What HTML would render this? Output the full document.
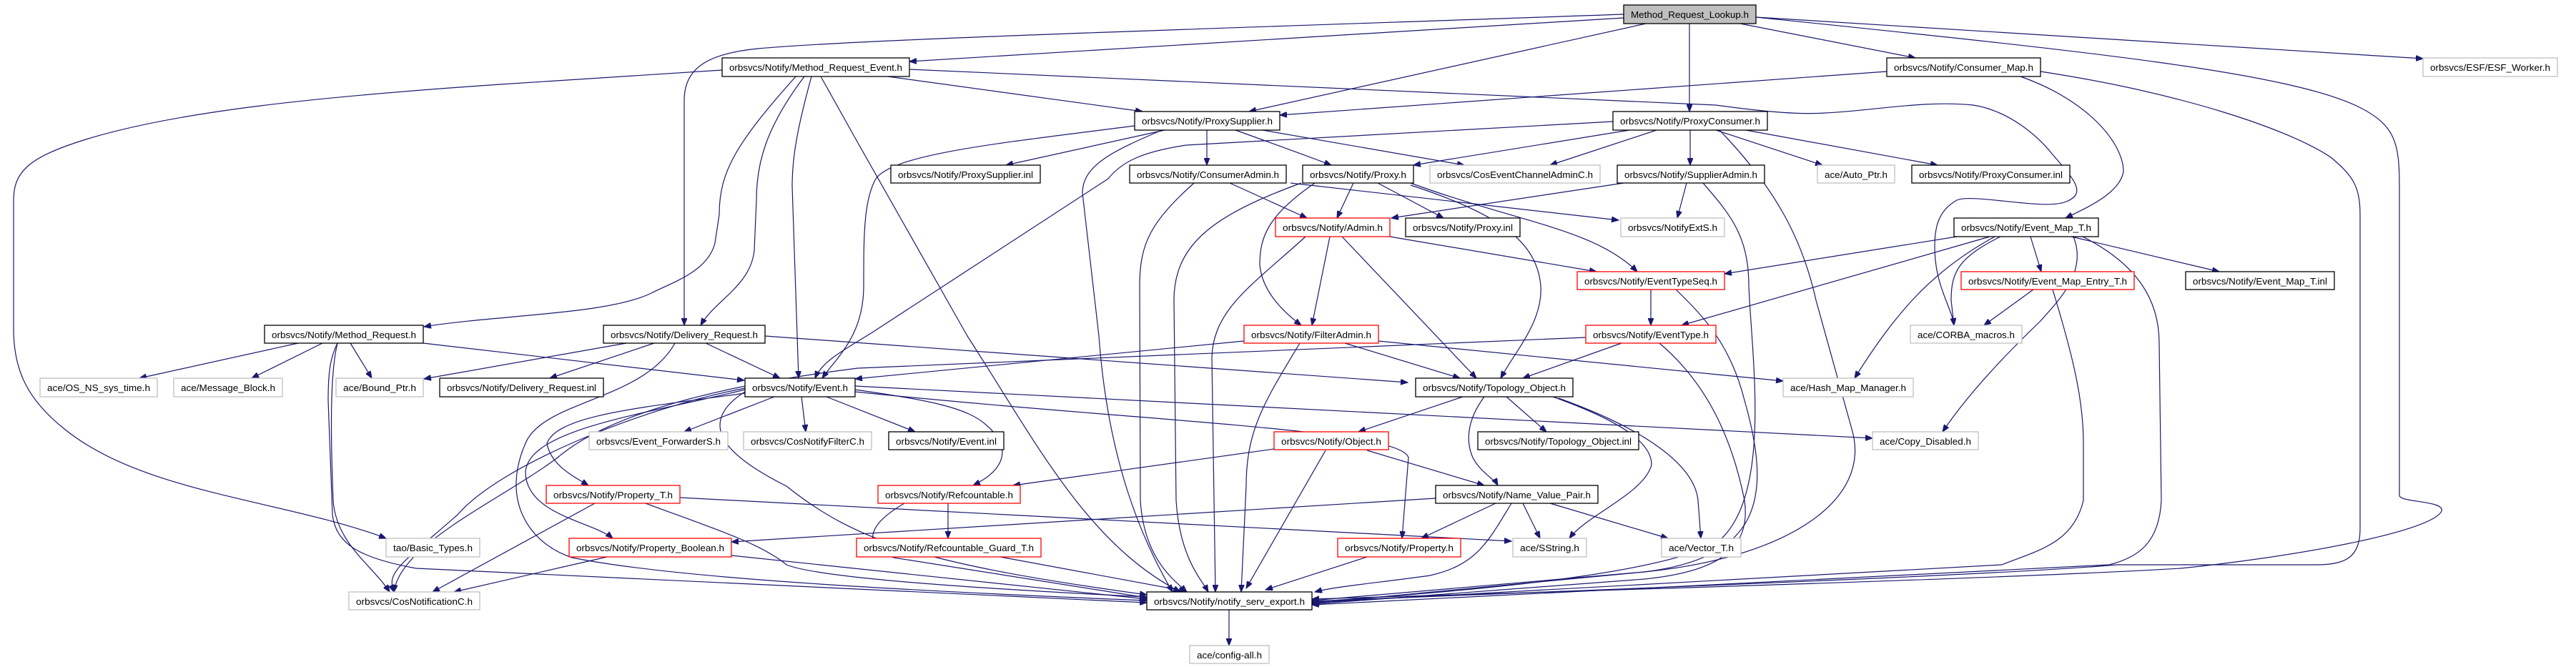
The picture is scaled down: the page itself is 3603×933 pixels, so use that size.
<!DOCTYPE html>
<html><head><meta charset="utf-8"><style>
html,body{margin:0;padding:0;background:#fff;}
svg{display:block;}
text{font-family:"Liberation Sans",sans-serif;font-size:13px;fill:#000;}
.e{fill:none;stroke:#191970;stroke-width:1.2;marker-end:url(#a);}
</style></head><body>
<svg width="3603" height="933" viewBox="0 0 3603 933" xmlns="http://www.w3.org/2000/svg">
<defs><marker id="a" markerUnits="userSpaceOnUse" markerWidth="11" markerHeight="8" refX="10" refY="4" orient="auto"><path d="M0,0 L10,4 L0,8 z" fill="#191970" stroke="#191970"/></marker></defs>
<g>
<path class="e" d="M2271,25 L1272,86"/>
<path class="e" d="M2271,20 C1700,40 1200,55 1060,68 C990,75 957,95 957,140 L957,455"/>
<path class="e" d="M2302,33 L1747,156"/>
<path class="e" d="M2363,33 L2363,156"/>
<path class="e" d="M2434,33 L2679,81"/>
<path class="e" d="M2456,24 L3389,82"/>
<path class="e" d="M2456,24 C2900,70 3200,100 3300,150 C3350,175 3356,200 3356,260 L3356,693 C3356,703 3420,700 3415,715 C3400,745 3200,780 3050,795 C2800,810 2100,830 1835,838"/>
<path class="e" d="M1010,98 L700,118 C450,135 250,155 120,195 C40,220 19,240 19,280 L19,460 C19,520 40,560 90,600 C200,690 400,700 540,753"/>
<path class="e" d="M1242,107 L1598,156"/>
<path class="e" d="M1113,107 C1030,200 1006,240 1006,300 L1000,340 C990,380 940,395 911,410 C850,440 700,440 593,457"/>
<path class="e" d="M1125,107 C1070,180 1058,230 1058,280 L1055,350 C1050,400 1000,420 980,455"/>
<path class="e" d="M1135,107 C1115,180 1108,220 1108,260 L1117,529"/>
<path class="e" d="M1148,107 L1200,200 L1353,470 C1450,620 1520,760 1651,828"/>
<path class="e" d="M1272,97 L2400,147 C2480,158 2520,160 2553,158 C2620,155 2690,140 2760,147 C2810,155 2850,190 2870,215 C2900,250 2920,270 2890,282 C2860,295 2760,270 2737,280 C2710,295 2706,320 2706,345 C2706,400 2730,430 2733,455"/>
<path class="e" d="M2639,100 L1790,161"/>
<path class="e" d="M2826,107 C2920,140 2970,200 2970,240 C2965,270 2920,290 2889,305"/>
<path class="e" d="M2854,100 C3050,130 3200,180 3260,220 C3290,245 3301,260 3301,300 L3301,740 C3301,780 3280,790 3240,790 L2960,790 C2800,805 2100,830 1835,841"/>
<path class="e" d="M2256,170 L1659,203 C1600,212 1570,225 1550,250 L1220,465 C1180,490 1150,505 1140,529"/>
<path class="e" d="M2317,182 L2168,231"/>
<path class="e" d="M2279,182 L1977,231"/>
<path class="e" d="M2364,182 L2364,231"/>
<path class="e" d="M2400,182 L2549,231"/>
<path class="e" d="M2442,182 L2710,231"/>
<path class="e" d="M2405,182 C2480,260 2520,330 2540,420 L2590,600 C2620,700 2500,780 2300,800 L1835,840"/>
<path class="e" d="M1629,182 L1407,231"/>
<path class="e" d="M1688,182 L1688,231"/>
<path class="e" d="M1728,182 Q1820,215 1862,231"/>
<path class="e" d="M1766,182 L2048,231"/>
<path class="e" d="M1587,176 C1400,200 1250,215 1225,250 C1208,280 1208,330 1208,400 C1208,470 1170,500 1150,529"/>
<path class="e" d="M1625,182 C1560,210 1514,230 1514,270 L1537,470 C1550,650 1600,760 1640,828"/>
<path class="e" d="M1720,256 L1828,305"/>
<path class="e" d="M1805,256 L2264,308"/>
<path class="e" d="M1670,256 C1610,310 1594,340 1594,400 L1595,700 C1600,780 1640,810 1660,828"/>
<path class="e" d="M1893,256 L1870,305"/>
<path class="e" d="M1927,256 L2019,305"/>
<path class="e" d="M1973,256 C2120,310 2230,320 2290,380"/>
<path class="e" d="M1973,259 C2100,300 2150,340 2155,400 C2158,450 2120,490 2099,529"/>
<path class="e" d="M1839,256 C1775,300 1762,330 1762,370 C1765,410 1800,440 1820,455"/>
<path class="e" d="M1820,256 C1700,300 1642,340 1642,420 L1645,700 C1650,780 1680,810 1690,828"/>
<path class="e" d="M2271,256 L1946,305"/>
<path class="e" d="M2359,256 L2346,305"/>
<path class="e" d="M2382,256 C2420,300 2446,330 2446,400 C2450,500 2480,700 2400,760 C2300,810 2000,830 1835,842"/>
<path class="e" d="M1860,331 L1835,455"/>
<path class="e" d="M1944,331 L2233,380"/>
<path class="e" d="M1877,331 L2065,529"/>
<path class="e" d="M1826,331 C1750,400 1697,433 1695,500 L1700,828"/>
<path class="e" d="M2309,405 L2309,455"/>
<path class="e" d="M2344,405 C2380,440 2420,480 2440,560 C2480,700 2460,780 2300,800 L1835,844"/>
<path class="e" d="M1740,477 L1196,530"/>
<path class="e" d="M1881,480 L2042,529"/>
<path class="e" d="M1818,480 C1770,560 1743,600 1743,680 L1736,828"/>
<path class="e" d="M1928,477 L2494,533"/>
<path class="e" d="M2268,480 L2130,529"/>
<path class="e" d="M2218,472 L1200,515 C1000,540 850,580 780,640 C700,700 560,760 551,828"/>
<path class="e" d="M2321,480 C2380,530 2420,600 2440,700 C2450,770 2400,800 2300,810 L1835,845"/>
<path class="e" d="M2046,555 L1900,604"/>
<path class="e" d="M2107,555 L2163,604"/>
<path class="e" d="M2076,555 C2050,590 2051,620 2060,640 C2070,660 2090,670 2095,679"/>
<path class="e" d="M2172,555 C2270,590 2310,620 2310,650 C2300,690 2220,720 2195,753"/>
<path class="e" d="M2180,557 C2300,600 2370,650 2375,700 L2379,753"/>
<path class="e" d="M1196,540 L2619,613"/>
<path class="e" d="M2900,331 C2920,380 2880,420 2853,450 C2780,520 2740,570 2717,604"/>
<path class="e" d="M1782,628 L1417,679"/>
<path class="e" d="M1912,630 L2076,679"/>
<path class="e" d="M1854,630 L1743,823"/>
<path class="e" d="M2092,704 L1988,753"/>
<path class="e" d="M2130,704 L2154,753"/>
<path class="e" d="M2168,704 L2333,753"/>
<path class="e" d="M2114,704 C2080,760 2065,790 2000,805 C1930,815 1870,820 1839,828"/>
<path class="e" d="M2008,697 L1023,758"/>
<path class="e" d="M1912,779 L1770,825"/>
<path class="e" d="M1326,704 L1326,753"/>
<path class="e" d="M1399,779 L1659,827"/>
<path class="e" d="M832,704 L605,828"/>
<path class="e" d="M951,696 L2114,757"/>
<path class="e" d="M903,704 C1000,740 1064,760 1100,790 C1150,810 1400,825 1604,835"/>
<path class="e" d="M849,779 L635,828"/>
<path class="e" d="M1023,777 L1604,838"/>
<path class="e" d="M417,480 L195,529"/>
<path class="e" d="M451,480 L352,529"/>
<path class="e" d="M490,480 L520,529"/>
<path class="e" d="M592,480 L1041,532"/>
<path class="e" d="M472,480 C462,500 459,520 459,560 L465,720 C470,760 500,780 582,795 L1604,843"/>
<path class="e" d="M472,480 C462,520 462,600 466,700 C470,760 520,790 545,828"/>
<path class="e" d="M876,480 L593,530"/>
<path class="e" d="M915,480 L769,529"/>
<path class="e" d="M987,480 L1091,529"/>
<path class="e" d="M1070,470 L1969,535"/>
<path class="e" d="M944,480 C900,560 760,560 735,620 C700,700 740,760 800,780 C900,800 1100,820 1604,840"/>
<path class="e" d="M1083,555 L957,604"/>
<path class="e" d="M1121,555 L1127,604"/>
<path class="e" d="M1156,555 L1280,604"/>
<path class="e" d="M1196,545 C1300,560 1353,570 1380,595 C1420,630 1400,660 1361,679"/>
<path class="e" d="M1042,550 C900,570 780,580 765,620 C770,650 800,665 823,679"/>
<path class="e" d="M1042,545 C900,580 740,600 735,660 C735,720 830,730 857,753"/>
<path class="e" d="M1196,548 C1600,590 1958,600 1970,640 L1961,753"/>
<path class="e" d="M1042,543 C900,570 700,650 640,720 C560,790 540,800 551,828"/>
<path class="e" d="M1042,548 C960,600 1040,650 1100,680 C1200,760 1300,790 1604,832"/>
<path class="e" d="M2737,331 L2412,383"/>
<path class="e" d="M2783,331 L2352,455"/>
<path class="e" d="M2840,331 L2855,380"/>
<path class="e" d="M2897,331 L3104,380"/>
<path class="e" d="M2798,331 C2740,360 2729,380 2729,420 L2733,455"/>
<path class="e" d="M2790,331 C2700,380 2650,440 2594,529"/>
<path class="e" d="M2913,331 C2990,370 3020,420 3020,480 L3023,700 C3020,760 2990,780 2950,790 L1835,846"/>
<path class="e" d="M2844,405 L2775,455"/>
<path class="e" d="M2871,405 C2900,500 2914,560 2914,620 L2914,700 C2900,760 2850,770 2800,790 L1835,843"/>
<path class="e" d="M1265,704 C1220,730 1200,760 1250,780 L1604,836"/>
<path class="e" d="M1719,853 L1719,903"/>
</g>
<g stroke-width="1.3">
<rect x="2271" y="7" width="185" height="26" fill="#bfbfbf" stroke="#000"/><text x="2281" y="25" textLength="165" lengthAdjust="spacingAndGlyphs">Method_Request_Lookup.h</text>
<rect x="1010" y="81" width="262" height="26" fill="#fff" stroke="#000"/><text x="1020" y="99" textLength="242" lengthAdjust="spacingAndGlyphs">orbsvcs/Notify/Method_Request_Event.h</text>
<rect x="2639" y="81" width="215" height="26" fill="#fff" stroke="#000"/><text x="2649" y="99" textLength="195" lengthAdjust="spacingAndGlyphs">orbsvcs/Notify/Consumer_Map.h</text>
<rect x="3389" y="81" width="188" height="26" fill="#fff" stroke="#bfbfbf"/><text x="3399" y="99" textLength="168" lengthAdjust="spacingAndGlyphs">orbsvcs/ESF/ESF_Worker.h</text>
<rect x="1587" y="156" width="203" height="26" fill="#fff" stroke="#000"/><text x="1597" y="174" textLength="183" lengthAdjust="spacingAndGlyphs">orbsvcs/Notify/ProxySupplier.h</text>
<rect x="2256" y="156" width="216" height="26" fill="#fff" stroke="#000"/><text x="2266" y="174" textLength="196" lengthAdjust="spacingAndGlyphs">orbsvcs/Notify/ProxyConsumer.h</text>
<rect x="1246" y="231" width="209" height="25" fill="#fff" stroke="#000"/><text x="1256" y="249" textLength="189" lengthAdjust="spacingAndGlyphs">orbsvcs/Notify/ProxySupplier.inl</text>
<rect x="1580" y="231" width="219" height="25" fill="#fff" stroke="#000"/><text x="1590" y="249" textLength="199" lengthAdjust="spacingAndGlyphs">orbsvcs/Notify/ConsumerAdmin.h</text>
<rect x="1822" y="231" width="155" height="25" fill="#fff" stroke="#000"/><text x="1832" y="249" textLength="135" lengthAdjust="spacingAndGlyphs">orbsvcs/Notify/Proxy.h</text>
<rect x="2000" y="231" width="238" height="25" fill="#fff" stroke="#bfbfbf"/><text x="2010" y="249" textLength="218" lengthAdjust="spacingAndGlyphs">orbsvcs/CosEventChannelAdminC.h</text>
<rect x="2262" y="231" width="206" height="25" fill="#fff" stroke="#000"/><text x="2272" y="249" textLength="186" lengthAdjust="spacingAndGlyphs">orbsvcs/Notify/SupplierAdmin.h</text>
<rect x="2542" y="231" width="108" height="25" fill="#fff" stroke="#bfbfbf"/><text x="2552" y="249" textLength="88" lengthAdjust="spacingAndGlyphs">ace/Auto_Ptr.h</text>
<rect x="2674" y="231" width="221" height="25" fill="#fff" stroke="#000"/><text x="2684" y="249" textLength="201" lengthAdjust="spacingAndGlyphs">orbsvcs/Notify/ProxyConsumer.inl</text>
<rect x="1784" y="305" width="160" height="26" fill="#fff" stroke="#f00"/><text x="1794" y="323" textLength="140" lengthAdjust="spacingAndGlyphs">orbsvcs/Notify/Admin.h</text>
<rect x="1966" y="305" width="160" height="26" fill="#fff" stroke="#000"/><text x="1976" y="323" textLength="140" lengthAdjust="spacingAndGlyphs">orbsvcs/Notify/Proxy.inl</text>
<rect x="2267" y="305" width="145" height="26" fill="#fff" stroke="#bfbfbf"/><text x="2277" y="323" textLength="125" lengthAdjust="spacingAndGlyphs">orbsvcs/NotifyExtS.h</text>
<rect x="2733" y="305" width="202" height="26" fill="#fff" stroke="#000"/><text x="2743" y="323" textLength="182" lengthAdjust="spacingAndGlyphs">orbsvcs/Notify/Event_Map_T.h</text>
<rect x="2206" y="380" width="206" height="25" fill="#fff" stroke="#f00"/><text x="2216" y="398" textLength="186" lengthAdjust="spacingAndGlyphs">orbsvcs/Notify/EventTypeSeq.h</text>
<rect x="2743" y="380" width="242" height="25" fill="#fff" stroke="#f00"/><text x="2753" y="398" textLength="222" lengthAdjust="spacingAndGlyphs">orbsvcs/Notify/Event_Map_Entry_T.h</text>
<rect x="3057" y="380" width="208" height="25" fill="#fff" stroke="#000"/><text x="3067" y="398" textLength="188" lengthAdjust="spacingAndGlyphs">orbsvcs/Notify/Event_Map_T.inl</text>
<rect x="370" y="455" width="222" height="25" fill="#fff" stroke="#000"/><text x="380" y="473" textLength="202" lengthAdjust="spacingAndGlyphs">orbsvcs/Notify/Method_Request.h</text>
<rect x="844" y="455" width="226" height="25" fill="#fff" stroke="#000"/><text x="854" y="473" textLength="206" lengthAdjust="spacingAndGlyphs">orbsvcs/Notify/Delivery_Request.h</text>
<rect x="1740" y="455" width="188" height="25" fill="#fff" stroke="#f00"/><text x="1750" y="473" textLength="168" lengthAdjust="spacingAndGlyphs">orbsvcs/Notify/FilterAdmin.h</text>
<rect x="2218" y="455" width="182" height="25" fill="#fff" stroke="#f00"/><text x="2228" y="473" textLength="162" lengthAdjust="spacingAndGlyphs">orbsvcs/Notify/EventType.h</text>
<rect x="2672" y="455" width="156" height="25" fill="#fff" stroke="#bfbfbf"/><text x="2682" y="473" textLength="136" lengthAdjust="spacingAndGlyphs">ace/CORBA_macros.h</text>
<rect x="56" y="529" width="164" height="26" fill="#fff" stroke="#bfbfbf"/><text x="66" y="547" textLength="144" lengthAdjust="spacingAndGlyphs">ace/OS_NS_sys_time.h</text>
<rect x="243" y="529" width="152" height="26" fill="#fff" stroke="#bfbfbf"/><text x="253" y="547" textLength="132" lengthAdjust="spacingAndGlyphs">ace/Message_Block.h</text>
<rect x="470" y="529" width="122" height="26" fill="#fff" stroke="#bfbfbf"/><text x="480" y="547" textLength="102" lengthAdjust="spacingAndGlyphs">ace/Bound_Ptr.h</text>
<rect x="615" y="529" width="229" height="26" fill="#fff" stroke="#000"/><text x="625" y="547" textLength="209" lengthAdjust="spacingAndGlyphs">orbsvcs/Notify/Delivery_Request.inl</text>
<rect x="1042" y="529" width="154" height="26" fill="#fff" stroke="#000"/><text x="1052" y="547" textLength="134" lengthAdjust="spacingAndGlyphs">orbsvcs/Notify/Event.h</text>
<rect x="1980" y="529" width="220" height="26" fill="#fff" stroke="#000"/><text x="1990" y="547" textLength="200" lengthAdjust="spacingAndGlyphs">orbsvcs/Notify/Topology_Object.h</text>
<rect x="2494" y="529" width="182" height="26" fill="#fff" stroke="#bfbfbf"/><text x="2504" y="547" textLength="162" lengthAdjust="spacingAndGlyphs">ace/Hash_Map_Manager.h</text>
<rect x="824" y="604" width="194" height="25" fill="#fff" stroke="#bfbfbf"/><text x="834" y="622" textLength="174" lengthAdjust="spacingAndGlyphs">orbsvcs/Event_ForwarderS.h</text>
<rect x="1040" y="604" width="179" height="25" fill="#fff" stroke="#bfbfbf"/><text x="1050" y="622" textLength="159" lengthAdjust="spacingAndGlyphs">orbsvcs/CosNotifyFilterC.h</text>
<rect x="1243" y="604" width="161" height="25" fill="#fff" stroke="#000"/><text x="1253" y="622" textLength="141" lengthAdjust="spacingAndGlyphs">orbsvcs/Notify/Event.inl</text>
<rect x="1782" y="604" width="160" height="25" fill="#fff" stroke="#f00"/><text x="1792" y="622" textLength="140" lengthAdjust="spacingAndGlyphs">orbsvcs/Notify/Object.h</text>
<rect x="2067" y="604" width="225" height="25" fill="#fff" stroke="#000"/><text x="2077" y="622" textLength="205" lengthAdjust="spacingAndGlyphs">orbsvcs/Notify/Topology_Object.inl</text>
<rect x="2619" y="604" width="148" height="25" fill="#fff" stroke="#bfbfbf"/><text x="2629" y="622" textLength="128" lengthAdjust="spacingAndGlyphs">ace/Copy_Disabled.h</text>
<rect x="764" y="679" width="187" height="25" fill="#fff" stroke="#f00"/><text x="774" y="697" textLength="167" lengthAdjust="spacingAndGlyphs">orbsvcs/Notify/Property_T.h</text>
<rect x="1228" y="679" width="199" height="25" fill="#fff" stroke="#f00"/><text x="1238" y="697" textLength="179" lengthAdjust="spacingAndGlyphs">orbsvcs/Notify/Refcountable.h</text>
<rect x="2008" y="679" width="227" height="25" fill="#fff" stroke="#000"/><text x="2018" y="697" textLength="207" lengthAdjust="spacingAndGlyphs">orbsvcs/Notify/Name_Value_Pair.h</text>
<rect x="540" y="753" width="131" height="26" fill="#fff" stroke="#bfbfbf"/><text x="550" y="771" textLength="111" lengthAdjust="spacingAndGlyphs">tao/Basic_Types.h</text>
<rect x="796" y="753" width="227" height="26" fill="#fff" stroke="#f00"/><text x="806" y="771" textLength="207" lengthAdjust="spacingAndGlyphs">orbsvcs/Notify/Property_Boolean.h</text>
<rect x="1198" y="753" width="258" height="26" fill="#fff" stroke="#f00"/><text x="1208" y="771" textLength="238" lengthAdjust="spacingAndGlyphs">orbsvcs/Notify/Refcountable_Guard_T.h</text>
<rect x="1871" y="753" width="172" height="26" fill="#fff" stroke="#f00"/><text x="1881" y="771" textLength="152" lengthAdjust="spacingAndGlyphs">orbsvcs/Notify/Property.h</text>
<rect x="2116" y="753" width="103" height="26" fill="#fff" stroke="#bfbfbf"/><text x="2126" y="771" textLength="83" lengthAdjust="spacingAndGlyphs">ace/SString.h</text>
<rect x="2324" y="753" width="111" height="26" fill="#fff" stroke="#bfbfbf"/><text x="2334" y="771" textLength="91" lengthAdjust="spacingAndGlyphs">ace/Vector_T.h</text>
<rect x="488" y="828" width="183" height="25" fill="#fff" stroke="#bfbfbf"/><text x="498" y="846" textLength="163" lengthAdjust="spacingAndGlyphs">orbsvcs/CosNotificationC.h</text>
<rect x="1604" y="828" width="231" height="25" fill="#fff" stroke="#000"/><text x="1614" y="846" textLength="211" lengthAdjust="spacingAndGlyphs">orbsvcs/Notify/notify_serv_export.h</text>
<rect x="1664" y="903" width="111" height="25" fill="#fff" stroke="#bfbfbf"/><text x="1674" y="921" textLength="91" lengthAdjust="spacingAndGlyphs">ace/config-all.h</text>
</g>
</svg>
</body></html>
